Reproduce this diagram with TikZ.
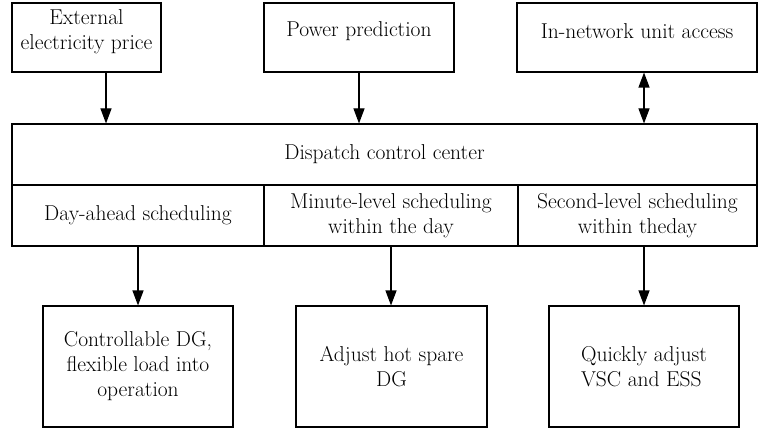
\documentclass[tikz,border=0pt]{standalone}
\usepackage{fontspec}
\usetikzlibrary{arrows.meta}
\begin{document}
\begin{tikzpicture}[x=1pt,y=-1pt,
  box/.style={draw, line width=1.1pt, inner sep=0pt, align=center,
    font=\fontsize{21.5}{25}\selectfont},
  lbl/.style={inner sep=0pt, align=center, font=\fontsize{21.5}{25}\selectfont},
  arr/.style={line width=1.1pt, -{Triangle[length=15pt,width=11pt]}},
  biarr/.style={line width=1.1pt, {Triangle[length=15pt,width=11pt]}-{Triangle[length=15pt,width=11pt]}}]
\useasboundingbox (0,0) rectangle (759,430);
% top boxes (text sits slightly above centre)
\node[box, minimum width=149pt, minimum height=69pt] (t1) at (86.5,37.5) {};
\node[box, minimum width=190pt, minimum height=69pt] (t2) at (359,37.5) {};
\node[box, minimum width=240pt, minimum height=69pt] (t3) at (637,37.5) {};
\node[lbl, yshift=6pt] (t1txt) at (t1.center) {External\\electricity price};
\node[lbl, yshift=6pt] (t2txt) at (t2.center) {Power prediction};
\node[lbl, yshift=6pt] (t3txt) at (t3.center) {In-network unit access};
% dispatch center
\node[box, minimum width=745pt, minimum height=61pt] (dcc) at (384.5,154.5) {Dispatch control center};
\node[box, minimum width=252pt, minimum height=61pt] (s1) at (138,215.5) {Day-ahead scheduling};
\node[box, minimum width=254pt, minimum height=61pt] (s2) at (391,215.5) {Minute-level scheduling\\within the day};
\node[box, minimum width=239pt, minimum height=61pt] (s3) at (637.5,215.5) {Second-level scheduling\\within theday};
% bottom boxes
\node[box, minimum width=190pt, minimum height=121pt] (b1) at (138,366.5) {Controllable DG,\\flexible load into\\operation};
\node[box, minimum width=191pt, minimum height=121pt] (b2) at (391.5,366.5) {Adjust hot spare\\DG};
\node[box, minimum width=190pt, minimum height=121pt, align=left] (b3) at (644,366.5) {Quickly adjust\\VSC and ESS};
% arrow x positions
\coordinate (a1) at (106,0);
\coordinate (a2) at (359,0);
\coordinate (a3) at (644,0);
\coordinate (c1) at (138,0);
\coordinate (c2) at (391,0);
\coordinate (c3) at (644,0);
\draw[arr] (t1.south -| a1) -- (dcc.north -| a1);
\draw[arr] (t2.south -| a2) -- (dcc.north -| a2);
\draw[biarr] (t3.south -| a3) -- (dcc.north -| a3);
\draw[arr] (s1.south -| c1) -- (b1.north -| c1);
\draw[arr] (s2.south -| c2) -- (b2.north -| c2);
\draw[arr] (s3.south -| c3) -- (b3.north -| c3);
\end{tikzpicture}
\end{document}
